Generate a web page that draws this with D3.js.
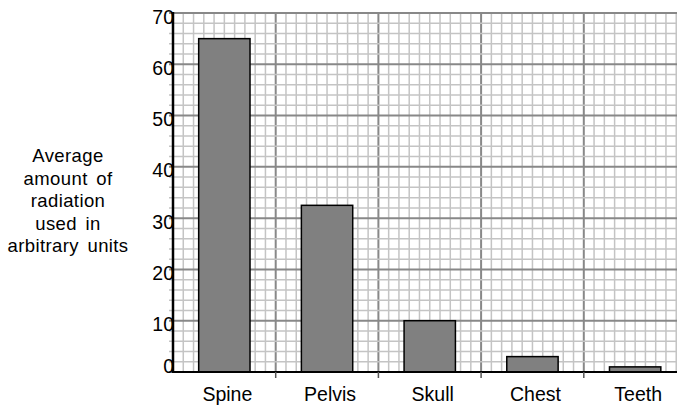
<!DOCTYPE html>
<html>
<head>
<meta charset="utf-8">
<script src="https://cdn.jsdelivr.net/npm/d3@7"></script>
<style>
body { margin: 0; background: #fff; }
text { font-family: "Liberation Sans", Arial, sans-serif; fill: #000; }
</style>
</head>
<body>
<svg width="677" height="406"></svg>
<script>
var categories = ["Spine", "Pelvis", "Skull", "Chest", "Teeth"];
var values = [65, 32.5, 10, 3, 1];
var yTicks = [0, 10, 20, 30, 40, 50, 60, 70];
var titleLines = ["Average", "amount of", "radiation", "used in", "arbitrary units"];

var svg = d3.select("svg");
var plotLeft = 173, plotTop = 13, plotBottom = 372, plotRight = 686.5;

var y = d3.scaleLinear().domain([0, 70]).range([plotBottom, plotTop]);
var x = d3.scaleBand().domain(categories).range([plotLeft, plotRight])
	.paddingInner(0.5).paddingOuter(0.25);
// grid squares: 50 small squares across, 35 up
var gx = d3.scaleLinear().domain([0, 50]).range([plotLeft, plotRight]);

var grid = svg.append("g");
grid.selectAll(".v").data(d3.range(0, 51)).enter().append("line")
	.attr("x1", d => gx(d)).attr("x2", d => gx(d))
	.attr("y1", plotTop).attr("y2", plotBottom)
	.attr("stroke", d => d % 10 == 0 ? "#888" : "#c4c4c4")
	.attr("stroke-width", d => d % 10 == 0 ? 2 : 1.5);
grid.selectAll(".h").data(d3.range(0, 71, 2)).enter().append("line")
	.attr("x1", plotLeft - 4).attr("x2", 677)
	.attr("y1", d => y(d)).attr("y2", d => y(d))
	.attr("stroke", d => d % 10 == 0 ? "#888" : "#c4c4c4")
	.attr("stroke-width", d => d % 10 == 0 ? 2 : 1.5);

// bars
svg.selectAll(".bar").data(values).enter().append("rect")
	.attr("x", (d, i) => x(categories[i]))
	.attr("width", x.bandwidth())
	.attr("y", d => y(d))
	.attr("height", d => y(0) - y(d))
	.attr("fill", "#808080")
	.attr("stroke", "#000")
	.attr("stroke-width", 1.5);

// axes lines
svg.append("line").attr("x1", plotLeft).attr("x2", plotLeft).attr("y1", plotTop - 1).attr("y2", plotBottom + 1)
	.attr("stroke", "#000").attr("stroke-width", 2.5);
svg.append("line").attr("x1", plotLeft).attr("x2", 677).attr("y1", plotBottom).attr("y2", plotBottom)
	.attr("stroke", "#000").attr("stroke-width", 2);
// bottom ticks at the heavy grid lines
svg.selectAll(".xt").data(d3.range(10, 51, 10)).enter().append("line")
	.attr("x1", d => gx(d)).attr("x2", d => gx(d))
	.attr("y1", plotBottom).attr("y2", plotBottom + 6)
	.attr("stroke", "#555").attr("stroke-width", 1.5);

// y tick labels
svg.selectAll(".yl").data(yTicks).enter().append("text")
	.attr("x", plotLeft + 1)
	.attr("y", d => d == 0 ? y(d) + 1 : y(d) + 10.5)
	.attr("text-anchor", "end")
	.style("font-size", "19.5px")
	.text(d => d);

// category labels
svg.selectAll(".xl").data(categories).enter().append("text")
	.attr("x", d => x(d) + x.bandwidth() / 2 + 3)
	.attr("y", 401)
	.attr("text-anchor", "middle")
	.style("font-size", "19.5px")
	.text(d => d);

// y axis title
svg.selectAll(".title").data(titleLines).enter().append("text")
	.attr("x", 68)
	.attr("y", (d, i) => 162 + i * 22.5)
	.attr("text-anchor", "middle")
	.style("font-size", "18.5px")
	.style("letter-spacing", "0.4px")
	.style("word-spacing", "3px")
	.text(d => d);
</script>
</body>
</html>
